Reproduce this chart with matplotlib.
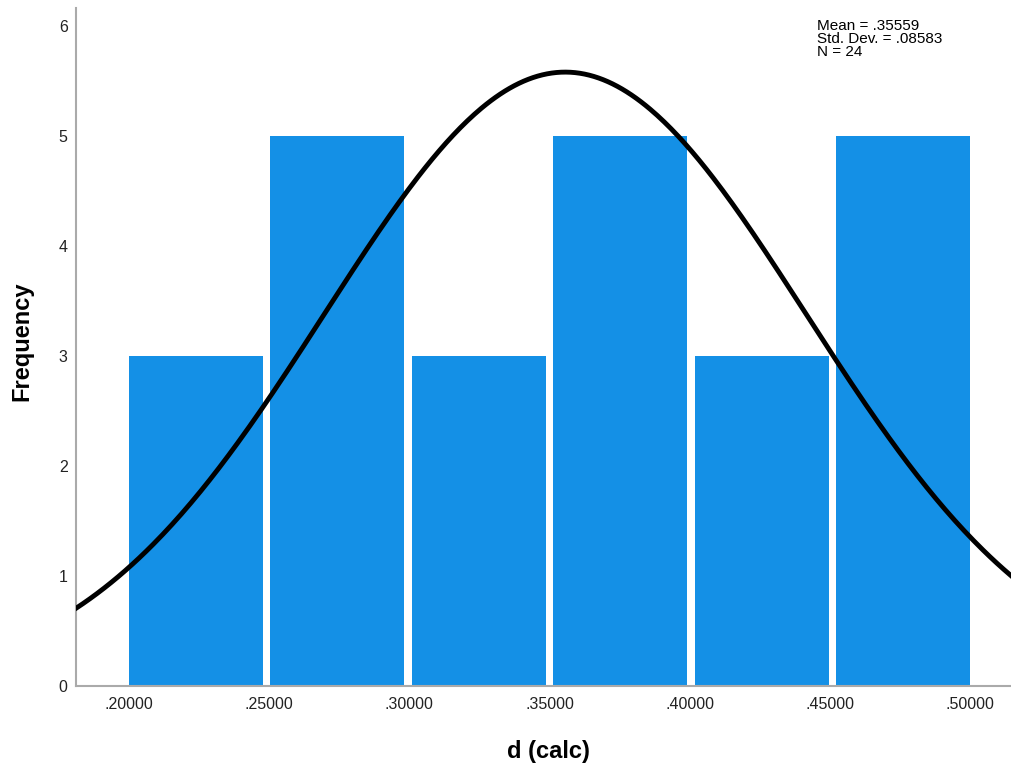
import numpy as np
import matplotlib.pyplot as plt

plt.rcParams['font.family'] = ['Liberation Sans', 'DejaVu Sans']

# histogram data
bin_edges = [0.20, 0.25, 0.30, 0.35, 0.40, 0.45, 0.50]
counts = [3, 5, 3, 5, 3, 5]
mean = 0.35559
std = 0.08583
n = 24
x_ticks = [0.20, 0.25, 0.30, 0.35, 0.40, 0.45, 0.50]
x_tick_labels = [".20000", ".25000", ".30000", ".35000", ".40000", ".45000", ".50000"]
y_ticks = [0, 1, 2, 3, 4, 5, 6]

fig = plt.figure(figsize=(10.11, 7.63), dpi=100)
ax = fig.add_axes([0.0752, 0.1009, 0.9248, 0.8886])

# SPSS style: bars fill the range edge to edge with small white gaps between
edges = np.array(bin_edges)
nb = len(counts)
bw = edges[1] - edges[0]
bar_w = bw * 0.955
gap = (edges[-1] - edges[0] - nb * bar_w) / (nb - 1)
left = edges[0] + np.arange(nb) * (bar_w + gap)
ax.bar(left, counts, width=bar_w, align="edge", color="#1490e6",
       linewidth=0, zorder=2)

# normal curve scaled to the histogram
xmin, xmax = 0.1811, 0.5146
xs = np.linspace(xmin, xmax, 400)
ys = n * bw / (std * np.sqrt(2 * np.pi)) * np.exp(-0.5 * ((xs - mean) / std) ** 2)
ax.plot(xs, ys, color="black", linewidth=3.5, zorder=3)

ax.set_xlim(xmin, xmax)
ax.set_ylim(0, 6.16)
ax.set_xticks(x_ticks)
ax.set_xticklabels(x_tick_labels)
ax.set_yticks(y_ticks)
ax.tick_params(length=0, labelsize=11.5, colors="#222222", pad=8)
ax.tick_params(axis="y", pad=6)

for s in ["top", "right"]:
    ax.spines[s].set_visible(False)
for s in ["left", "bottom"]:
    ax.spines[s].set_color("#aaaaaa")
    ax.spines[s].set_linewidth(1.5)

ax.set_xlabel("d (calc)", fontsize=17, fontweight="bold")
ax.xaxis.set_label_coords(0.505, -0.079)
ax.set_ylabel("Frequency", fontsize=17, fontweight="bold")
ax.yaxis.set_label_coords(-0.046, 0.509)

ax.text(0.808, 0.975, f"Mean = .{str(mean).split('.')[1]}\nStd. Dev. = .{str(std).split('.')[1]}\nN = {n}",
        transform=fig.transFigure, ha="left", va="top", fontsize=11, linespacing=0.9)

fig.savefig("out.png", dpi=100)
